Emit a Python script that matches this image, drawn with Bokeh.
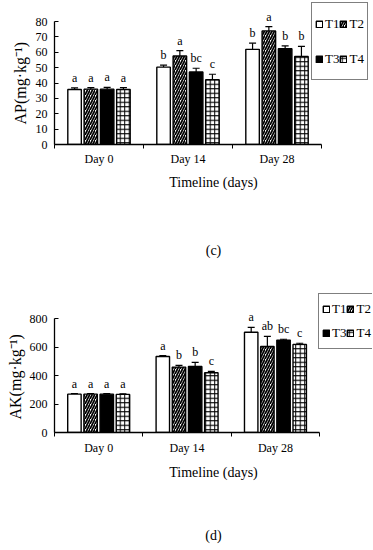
from bokeh.plotting import figure
from bokeh.models import (ColumnDataSource, Range1d, FixedTicker, Whisker, TeeHead,
                          Legend, LegendItem, LinearAxis, Title)
from bokeh.layouts import column
from bokeh.core.properties import value
from bokeh.embed import file_html
from bokeh.resources import INLINE

# ---------------- data ----------------
days = ["Day 0", "Day 14", "Day 28"]
treatments = ["T1", "T2", "T3", "T4"]

ap_T1 = [35.8, 50.3, 61.9]
ap_T2 = [36.0, 57.6, 73.9]
ap_T3 = [36.0, 47.2, 62.3]
ap_T4 = [35.8, 42.1, 57.2]
ap_err_T1 = [1.0, 1.3, 4.0]
ap_err_T2 = [1.0, 3.5, 2.8]
ap_err_T3 = [1.2, 2.4, 1.8]
ap_err_T4 = [1.2, 3.6, 6.6]
ap_sig_T1 = ["a", "b", "b"]
ap_sig_T2 = ["a", "a", "a"]
ap_sig_T3 = ["a", "bc", "b"]
ap_sig_T4 = ["a", "c", "b"]

ak_T1 = [270, 535, 705]
ak_T2 = [270, 460, 605]
ak_T3 = [270, 465, 650]
ak_T4 = [268, 420, 620]
ak_err_T1 = [4, 6, 35]
ak_err_T2 = [4, 12, 72]
ak_err_T3 = [4, 28, 6]
ak_err_T4 = [4, 10, 8]
ak_sig_T1 = ["a", "a", "a"]
ak_sig_T2 = ["a", "b", "ab"]
ak_sig_T3 = ["a", "b", "bc"]
ak_sig_T4 = ["a", "c", "c"]

ap_ticks = [0, 10, 20, 30, 40, 50, 60, 70, 80]
ak_ticks = [0, 200, 400, 600, 800]

FONT = "Liberation Serif"

styles = {
    "T1": dict(fill_color="white", hatch_pattern=None),
    "T2": dict(fill_color="white", hatch_pattern="/", hatch_color="black",
               hatch_scale=5, hatch_weight=1.7),
    "T3": dict(fill_color="black", hatch_pattern=None),
    "T4": dict(fill_color="white", hatch_pattern="+", hatch_color="black",
               hatch_scale=4.5, hatch_weight=1.0),
}


def make_panel(series, errs, sigs, ymax, yview, xview, yticks, ylabel, caption,
               width, height, mb_left, mb_bottom,
               tick_standoff, label_standoff, cap_standoff, ylab_offset, ylab_standoff,
               leg_loc, leg_lh, leg_sp):
    p = figure(width=width, height=height, output_backend="svg", toolbar_location=None,
               x_range=Range1d(0, xview), y_range=Range1d(0, yview),
               min_border_left=mb_left, min_border_right=0,
               min_border_top=0, min_border_bottom=mb_bottom)
    p.outline_line_color = None
    p.xgrid.visible = False
    p.ygrid.visible = False
    p.background_fill_color = "white"
    p.border_fill_color = "white"

    step = 0.183
    bw = 0.152
    items = []
    for i, t in enumerate(treatments):
        xs = [k + 0.5 + (i - 1.5) * step for k in range(len(days))]
        vals = series[i]
        upper = [v + e for v, e in zip(vals, errs[i])]
        src = ColumnDataSource(dict(x=xs, top=vals, upper=upper, sig=sigs[i]))
        r = p.vbar(x="x", top="top", width=bw, source=src, line_color="black",
                   line_width=1.4, **styles[t])
        w = Whisker(base="x", lower="top", upper="upper", source=src,
                    dimension="height", line_color="black", line_width=1.2,
                    upper_head=TeeHead(size=7, line_color="black", line_width=1.2),
                    lower_head=None)
        p.add_layout(w)
        p.text(x="x", y="upper", text="sig", source=src, text_align="center",
               text_baseline="bottom", y_offset=-3, text_font=value(FONT),
               text_font_size="12px", text_color="black")
        items.append(LegendItem(label=t, renderers=[r]))

    # x axis
    xa = p.xaxis[0]
    xa.bounds = (0, len(days))
    xa.ticker = FixedTicker(ticks=[0.5, 1.5, 2.5], minor_ticks=[0, 1, 2, 3])
    xa.major_label_overrides = {0.5: days[0], 1.5: days[1], 2.5: days[2]}
    xa.major_tick_out = 0
    xa.major_tick_in = 0
    xa.minor_tick_out = 4
    xa.minor_tick_in = 0
    xa.axis_line_width = 1.3
    xa.axis_line_color = "black"
    xa.minor_tick_line_color = "black"
    xa.major_label_text_font = FONT
    xa.major_label_text_font_size = "12px"
    xa.major_label_text_color = "black"
    xa.major_label_standoff = tick_standoff
    xa.axis_label = "Timeline (days)"
    xa.axis_label_text_font = FONT
    xa.axis_label_text_font_size = "14px"
    xa.axis_label_text_font_style = "normal"
    xa.axis_label_text_color = "black"
    xa.axis_label_standoff = label_standoff

    # caption as a tick-less axis label below
    cap = LinearAxis(ticker=FixedTicker(ticks=[], minor_ticks=[]),
                     axis_line_color=None, major_tick_line_color=None,
                     minor_tick_line_color=None, major_label_standoff=0,
                     major_label_text_font_size="0px",
                     axis_label=caption, axis_label_text_font=FONT,
                     axis_label_text_font_size="14px",
                     axis_label_text_font_style="normal",
                     axis_label_text_color="black",
                     axis_label_standoff=cap_standoff)
    p.add_layout(cap, "below")

    # y axis
    ya = p.yaxis[0]
    ya.bounds = (0, ymax)
    ya.ticker = FixedTicker(ticks=yticks, minor_ticks=[])
    ya.major_tick_in = 4
    ya.major_tick_out = 0
    ya.major_tick_line_color = "black"
    ya.axis_line_width = 1.3
    ya.axis_line_color = "black"
    ya.major_label_text_font = FONT
    ya.major_label_text_font_size = "12px"
    ya.major_label_text_color = "black"
    ya.major_label_standoff = 7

    ytitle = Title(text=ylabel, align="left", offset=ylab_offset, standoff=ylab_standoff,
                   vertical_align="bottom", text_font=FONT, text_font_size="16px",
                   text_font_style="normal", text_color="black")
    p.add_layout(ytitle, "left")

    leg = Legend(items=items, location=leg_loc, orientation="horizontal", ncols=2,
                 glyph_width=8, glyph_height=8, label_standoff=2, padding=3,
                 spacing=leg_sp, label_height=leg_lh, label_width=12, margin=0,
                 label_text_font=FONT, label_text_font_size="13px",
                 label_text_color="black", border_line_color="black",
                 border_line_width=1.3, background_fill_alpha=1.0)
    p.add_layout(leg)
    return p


p1 = make_panel([ap_T1, ap_T2, ap_T3, ap_T4],
                [ap_err_T1, ap_err_T2, ap_err_T3, ap_err_T4],
                [ap_sig_T1, ap_sig_T2, ap_sig_T3, ap_sig_T4],
                80, 93.66, 3.573, ap_ticks, "AP(mg·kg⁻¹)", "(c)",
                372, 269, 54, 125, 3, 6, 50, 20, 8, (257, 64), 35, 0)
p2 = make_panel([ak_T1, ak_T2, ak_T3, ak_T4],
                [ak_err_T1, ak_err_T2, ak_err_T3, ak_err_T4],
                [ak_sig_T1, ak_sig_T2, ak_sig_T3, ak_sig_T4],
                800, 1146.9, 3.598, ak_ticks, "AK(mg·kg⁻¹)", "(d)",
                372, 279, 47, 116, 4, 7, 45, 13, 5, (264, 83), 24, 0)

layout = column(p1, p2, spacing=0)
open("out.html", "w").write(file_html(layout, INLINE))
